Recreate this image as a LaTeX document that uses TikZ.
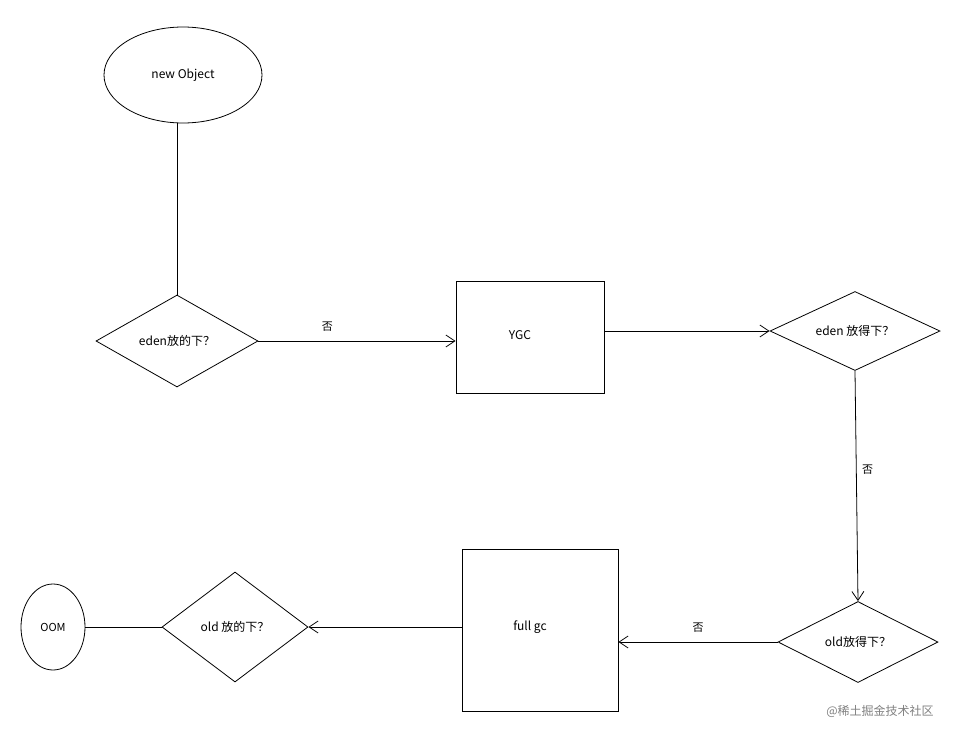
\documentclass[tikz,border=0pt]{standalone}
\usepackage{fontspec}
\setmainfont{Noto Sans CJK SC}
\usetikzlibrary{shapes.geometric,arrows.meta}
\begin{document}
\begin{tikzpicture}[x=1pt,y=-1pt,
  ln/.style={draw=black,line width=0.8pt},
  arr/.style={ln,-{Straight Barb[length=9pt,width=12pt]}},
  lbl/.style={font=\fontsize{11}{13}\selectfont},
  dia/.style={diamond,ln,inner sep=0pt,aspect=2,font=\fontsize{12}{14}\selectfont}]
\useasboundingbox (0,0) rectangle (980,742);
\node[ellipse,ln,minimum width=158pt,minimum height=96pt,font=\fontsize{12}{14}\selectfont] (obj) at (183,75) {new Object};
\node[dia,minimum width=162pt,minimum height=92pt] (d1) at (177,341) {eden放的下？};
\node[rectangle,ln,minimum width=148pt,minimum height=112pt] (ygc) at (530,337) {};
\node[font=\fontsize{12}{14}\selectfont] (ygct) at (520,335) {YGC};
\node[dia,minimum width=170pt,minimum height=79pt] (d2) at (855,331) {eden 放得下？};
\node[dia,minimum width=160pt,minimum height=81pt] (d3) at (858,642) {old放得下？};
\node[rectangle,ln,minimum width=156pt,minimum height=162pt] (fgc) at (540,630) {};
\node[font=\fontsize{12}{14}\selectfont] (fgct) at (530,627) {full gc};
\node[dia,minimum width=146pt,minimum height=110pt,aspect=1.33] (d4) at (235,627) {old 放的下？};
\node[ellipse,ln,minimum width=64pt,minimum height=86pt,font=\fontsize{11}{13}\selectfont] (oom) at (53,627) {OOM};
\draw[ln] (d1.north |- obj.south) -- (d1.north);
\draw[arr] (d1.east) -- (ygc.west |- d1.east) node[lbl,pos=0.35,above=6pt]{否};
\draw[arr] (ygc.east |- d2.west) -- (d2.west);
\draw[arr] (d2.south) -- (d3.north) node[lbl,pos=0.43,right=2pt]{否};
\draw[arr] (d3.west) -- (fgc.east |- d3.west) node[lbl,midway,above=6pt]{否};
\draw[arr] (fgc.west |- d4.east) -- (d4.east);
\draw[ln] (d4.west) -- (oom.east);
\node[text=gray,font=\fontsize{12}{14}\selectfont] (wm) at (880,711) {@稀土掘金技术社区};
\end{tikzpicture}
\end{document}
